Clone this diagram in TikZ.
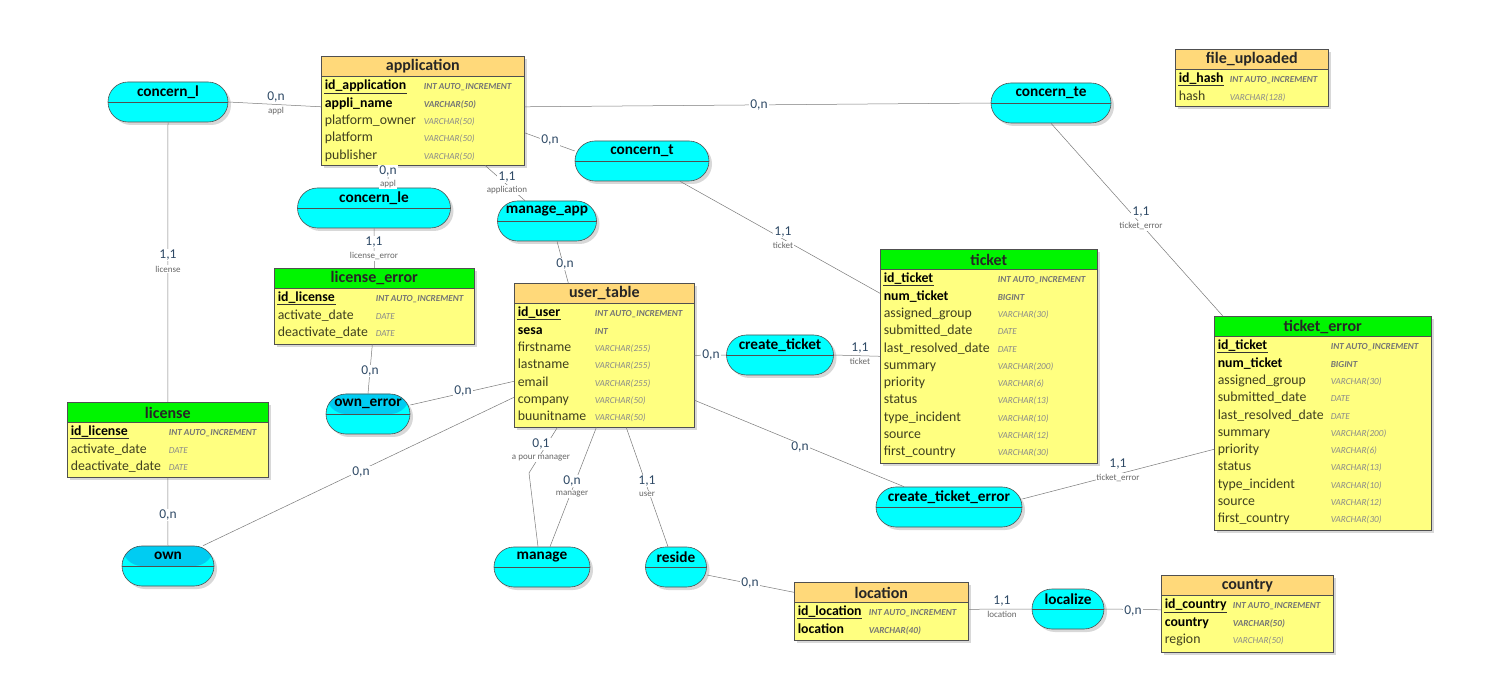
\documentclass[tikz,border=0pt]{standalone}
\usepackage{fontspec}
\setmainfont{Carlito}
\usetikzlibrary{shadows}

\definecolor{hdrorange}{HTML}{FFD97A}
\definecolor{hdrgreen}{HTML}{00F500}
\definecolor{tblyellow}{HTML}{FFFF80}
\definecolor{relcyan}{HTML}{00FFFF}
\definecolor{reltop}{HTML}{00CCF2}
\definecolor{bordergray}{HTML}{505050}
\definecolor{fieldgray}{HTML}{3F3F1F}
\definecolor{typegray}{HTML}{8A8A8A}
\definecolor{cardblue}{HTML}{2F4A66}
\definecolor{linkgray}{HTML}{7A7A7A}

% table: name, left, top, width, height, header colour, title, type column, rows
\newcommand{\mcdtable}[9]{%
  \node[tablebox, minimum width=#4pt, minimum height=#5pt] (#1) at (#2,#3) {};
  \fill[#6] (#1.north west) rectangle ([yshift=-20pt]#1.north east);
  \draw[tableborder] ([yshift=-20pt]#1.north west) -- ([yshift=-20pt]#1.north east);
  \draw[tableborder] (#1.north west) rectangle (#1.south east);
  \node[tabletitle] (#1title) at ([yshift=-10.5pt]#1.north) {#7};
  \foreach \fn/\ft/\fs/\ts [count=\i] in {#9} {
    \node[\fs] (#1f\i) at ([xshift=3pt, yshift={-31.5pt-(\i-1)*17.3pt}]#1.north west) {\fn};
    \node[\ts] (#1t\i) at ([xshift=#8pt, yshift={-31.5pt-(\i-1)*17.3pt}]#1.north west) {\ft};
  }
}
% relation: [extra style] name, centre x, centre y, width, title
\newcommand{\mcdrel}[6][]{%
  \node[relbox, minimum width=#5pt, #1] (#2) at (#3,#4) {};
  \draw[relline] (#2.west) -- (#2.east);
  \node[reltitle] (#2title) at ([yshift=10pt]#2.center) {#6};
}

\begin{document}
\begin{tikzpicture}[x=1pt, y=-1pt,
  tablebox/.style={rectangle, anchor=north west, fill=tblyellow, draw=bordergray, line width=0.6pt,
    drop shadow={shadow xshift=3pt, shadow yshift=-3pt, fill=black!30}},
  tableborder/.style={draw=bordergray, line width=0.6pt},
  tabletitle/.style={font=\fontsize{16}{18}\selectfont\bfseries, text=black!85},
  keyname/.style={anchor=mid west, inner sep=0.6pt, text=black, font=\fontsize{13.8}{15}\selectfont\bfseries,
    append after command={(\tikzlastnode.south west) edge[draw=black!80, line width=0.6pt] (\tikzlastnode.south east)}},
  boldname/.style={anchor=mid west, inner sep=0.6pt, text=black, font=\fontsize{13.8}{15}\selectfont\bfseries},
  plainname/.style={anchor=mid west, inner sep=0.6pt, text=fieldgray, font=\fontsize{13.8}{15}\selectfont},
  boldtype/.style={anchor=mid west, inner sep=0.6pt, text=typegray!85!black, font=\fontsize{9.2}{11}\selectfont\bfseries\itshape},
  plaintype/.style={anchor=mid west, inner sep=0.6pt, text=typegray, font=\fontsize{9.2}{11}\selectfont\itshape},
  relbox/.style={rectangle, rounded corners=20pt, minimum height=40pt, fill=relcyan, draw=bordergray, line width=0.6pt,
    drop shadow={shadow xshift=3pt, shadow yshift=-3pt, fill=black!30}},
  darktop/.style={path picture={\fill[reltop] (path picture bounding box.north west) rectangle (path picture bounding box.east);}},
  relline/.style={draw=bordergray, line width=0.5pt},
  reltitle/.style={font=\fontsize{15.3}{17}\selectfont\bfseries, text=black},
  link/.style={draw=linkgray, line width=0.5pt},
  card/.style={fill=white, inner sep=1pt, text=cardblue, font=\fontsize{13.5}{15}\selectfont},
  role/.style={fill=white, inner sep=0.8pt, text=black!60, font=\fontsize{9}{10}\selectfont}]

\useasboundingbox[fill=white] (0,0) rectangle (1500,700);

% tables
\mcdtable{application}{321}{56}{203}{109}{hdrorange}{application}{102}{%
  id\_application/INT AUTO\_INCREMENT/keyname/boldtype,
  appli\_name/VARCHAR(50)/boldname/boldtype,
  platform\_owner/VARCHAR(50)/plainname/plaintype,
  platform/VARCHAR(50)/plainname/plaintype,
  publisher/VARCHAR(50)/plainname/plaintype}
\mcdtable{fileuploaded}{1175}{49}{153}{57}{hdrorange}{file\_uploaded}{54}{%
  id\_hash/INT AUTO\_INCREMENT/keyname/boldtype,
  hash/VARCHAR(128)/plainname/plaintype}
\mcdtable{ticket}{880}{249}{217}{214}{hdrgreen}{ticket}{117}{%
  id\_ticket/INT AUTO\_INCREMENT/keyname/boldtype,
  num\_ticket/BIGINT/boldname/boldtype,
  assigned\_group/VARCHAR(30)/plainname/plaintype,
  submitted\_date/DATE/plainname/plaintype,
  last\_resolved\_date/DATE/plainname/plaintype,
  summary/VARCHAR(200)/plainname/plaintype,
  priority/VARCHAR(6)/plainname/plaintype,
  status/VARCHAR(13)/plainname/plaintype,
  type\_incident/VARCHAR(10)/plainname/plaintype,
  source/VARCHAR(12)/plainname/plaintype,
  first\_country/VARCHAR(30)/plainname/plaintype}
\mcdtable{ticketerror}{1214}{316}{217}{214}{hdrgreen}{ticket\_error}{116}{%
  id\_ticket/INT AUTO\_INCREMENT/keyname/boldtype,
  num\_ticket/BIGINT/boldname/boldtype,
  assigned\_group/VARCHAR(30)/plainname/plaintype,
  submitted\_date/DATE/plainname/plaintype,
  last\_resolved\_date/DATE/plainname/plaintype,
  summary/VARCHAR(200)/plainname/plaintype,
  priority/VARCHAR(6)/plainname/plaintype,
  status/VARCHAR(13)/plainname/plaintype,
  type\_incident/VARCHAR(10)/plainname/plaintype,
  source/VARCHAR(12)/plainname/plaintype,
  first\_country/VARCHAR(30)/plainname/plaintype}
\mcdtable{usertable}{514}{283}{180}{144}{hdrorange}{user\_table}{80}{%
  id\_user/INT AUTO\_INCREMENT/keyname/boldtype,
  sesa/INT/boldname/boldtype,
  firstname/VARCHAR(255)/plainname/plaintype,
  lastname/VARCHAR(255)/plainname/plaintype,
  email/VARCHAR(255)/plainname/plaintype,
  company/VARCHAR(50)/plainname/plaintype,
  buunitname/VARCHAR(50)/plainname/plaintype}
\mcdtable{licenseerror}{274}{268}{200}{76}{hdrgreen}{license\_error}{101}{%
  id\_license/INT AUTO\_INCREMENT/keyname/boldtype,
  activate\_date/DATE/plainname/plaintype,
  deactivate\_date/DATE/plainname/plaintype}
\mcdtable{license}{67}{402}{201}{75}{hdrgreen}{license}{101}{%
  id\_license/INT AUTO\_INCREMENT/keyname/boldtype,
  activate\_date/DATE/plainname/plaintype,
  deactivate\_date/DATE/plainname/plaintype}
\mcdtable{location}{794}{582}{174}{58}{hdrorange}{location}{74}{%
  id\_location/INT AUTO\_INCREMENT/keyname/boldtype,
  location/VARCHAR(40)/boldname/boldtype}
\mcdtable{country}{1161}{575}{172}{77}{hdrorange}{country}{71}{%
  id\_country/INT AUTO\_INCREMENT/keyname/boldtype,
  country/VARCHAR(50)/boldname/boldtype,
  region/VARCHAR(50)/plainname/plaintype}

% relations
\mcdrel{concernl}{168}{102}{120}{concern\_l}
\mcdrel{concernte}{1051}{103}{120}{concern\_te}
\mcdrel{concernt}{642}{161}{134}{concern\_t}
\mcdrel{concernle}{374}{208}{153}{concern\_le}
\mcdrel{manageapp}{547}{221}{99}{manage\_app}
\mcdrel{createticket}{780}{355}{107}{create\_ticket}
\mcdrel[darktop]{ownerror}{368}{414}{84}{own\_error}
\mcdrel{createticketerror}{949}{507}{146}{create\_ticket\_error}
\mcdrel[darktop]{own}{168}{566}{92}{own}
\mcdrel{manage}{542}{567}{96}{manage}
\mcdrel{reside}{676}{567}{61}{reside}
\mcdrel{localize}{1068}{609}{72}{localize}

% links
\coordinate (mgrbend) at (529,473);
\draw[link] (concernl.east) -- ([yshift=4pt]application.west);
\draw[link] (concernl.south) -- (license.north);
\draw[link] ([yshift=4pt]application.east) -- (concernte.west);
\draw[link] ([yshift=-22pt]application.east) -- ([yshift=10pt]concernt.west);
\draw[link] ([xshift=-34.5pt]application.south) -- ([xshift=14pt]concernle.north);
\draw[link] ([xshift=62.5pt]application.south) -- ([xshift=-22pt]manageapp.north);
\draw[link] (concernle.south) -- (licenseerror.north);
\draw[link] ([xshift=10pt]manageapp.south) -- ([xshift=-36pt]usertable.north);
\draw[link] ([xshift=38pt]concernt.south) -- ([yshift=63pt]ticket.west);
\draw[link] (concernte.south) -- ([xshift=-100pt]ticketerror.north);
\draw[link] ([xshift=-2pt]licenseerror.south) -- (ownerror.north);
\draw[link] ([yshift=-26pt]usertable.west) -- ([yshift=9pt]ownerror.east);
\draw[link] (usertable.east) -- (createticket.west);
\draw[link] (createticket.east) -- (ticket.west);
\draw[link] ([yshift=-42pt]usertable.west) -- ([xshift=35pt]own.north);
\draw[link] (license.south) -- (own.north);
\draw[link] ([xshift=-47pt]usertable.south) -- (mgrbend) -- ([xshift=-4pt]manage.north);
\draw[link] ([xshift=-8pt]usertable.south) -- ([xshift=8pt]manage.north);
\draw[link] ([xshift=22pt]usertable.south) -- ([xshift=-8pt]reside.north);
\draw[link] ([yshift=-45pt]usertable.east) -- ([xshift=-45pt]createticketerror.north);
\draw[link] ([yshift=8pt]createticketerror.east) -- ([yshift=-26pt]ticketerror.west);
\draw[link] ([yshift=-8pt]reside.east) -- ([yshift=19pt]location.west);
\draw[link] ([yshift=2pt]location.east) -- (localize.west);
\draw[link] (localize.east) -- ([yshift=4pt]country.west);

% cardinalities and roles
\node[card] (c1) at (276,97) {0,n};
\node[role] (r1) at (276,111) {appl};
\node[card] (c2) at (168,255) {1,1};
\node[role] (r2) at (168,269) {license};
\node[card] (c3) at (759,105) {0,n};
\node[card] (c4) at (550,140) {0,n};
\node[card] (c5) at (388,171) {0,n};
\node[role] (r5) at (388,184) {appl};
\node[card] (c6) at (507,177) {1,1};
\node[role] (r6) at (507,190) {application};
\node[card] (c7) at (374,242) {1,1};
\node[role] (r7) at (374,256) {license\_error};
\node[card] (c8) at (565,264) {0,n};
\node[card] (c9) at (783,232) {1,1};
\node[role] (r9) at (783,245) {ticket};
\node[card] (c10) at (1141,212) {1,1};
\node[role] (r10) at (1141,226) {ticket\_error};
\node[card] (c11) at (370,371) {0,n};
\node[card] (c12) at (463,391) {0,n};
\node[card] (c13) at (711,355) {0,n};
\node[card] (c14) at (860,348) {1,1};
\node[role] (r14) at (860,361) {ticket};
\node[card] (c15) at (361,472) {0,n};
\node[card] (c16) at (168,515) {0,n};
\node[card] (c17) at (541,444) {0,1};
\node[role] (r17) at (541,458) {a pour manager};
\node[card] (c18) at (572,481) {0,n};
\node[role] (r18) at (572,494) {manager};
\node[card] (c19) at (647,481) {1,1};
\node[role] (r19) at (647,494) {user};
\node[card] (c20) at (800,447) {0,n};
\node[card] (c21) at (1118,464) {1,1};
\node[role] (r21) at (1118,478) {ticket\_error};
\node[card] (c22) at (750,583) {0,n};
\node[card] (c23) at (1002,601) {1,1};
\node[role] (r23) at (1002,614) {location};
\node[card] (c24) at (1133,611) {0,n};
\end{tikzpicture}
\end{document}
